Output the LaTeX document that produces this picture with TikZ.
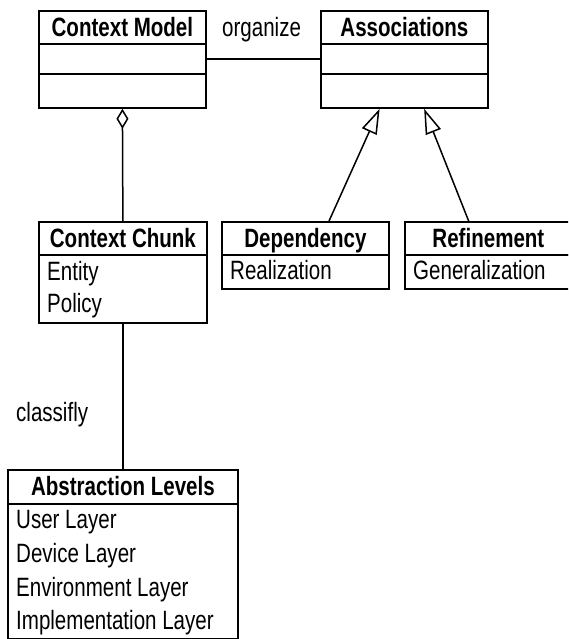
\documentclass[tikz,border=0pt]{standalone}
\usepackage{fontspec}
\setmainfont{Liberation Sans}[FakeStretch=0.775]
\usetikzlibrary{arrows.meta,calc}
\begin{document}
\begin{tikzpicture}[x=1pt,y=-1pt,
  frame/.style={draw, line width=1.8pt, inner sep=0pt, anchor=north west},
  title/.style={frame, font=\fontsize{26.5}{30}\selectfont\bfseries,
    text height=18pt, text depth=0pt, minimum height=33pt},
  slot/.style={frame},
  entry/.style={anchor=base west, inner sep=0pt, font=\fontsize{26.5}{30}\selectfont},
  link/.style={line width=1.5pt},
  hollowdiamond/.style={{Diamond[open,length=20pt,width=12pt]}-},
  hollowtri/.style={-{Triangle[open,length=25pt,width=16pt]}},
]
\path[use as bounding box, clip] (0,0) rectangle (568,639);

% Context Model
\node[title, minimum width=167pt] (cm) at (38,10) {Context Model};
\node[slot, minimum width=167pt, minimum height=30pt] (cm1) at (38,43) {};
\node[slot, minimum width=167pt, minimum height=34pt] (cm2) at (38,73) {};

% Associations
\node[title, minimum width=167pt] (as) at (320,10) {Associations};
\node[slot, minimum width=167pt, minimum height=30pt] (as1) at (320,43) {};
\node[slot, minimum width=167pt, minimum height=34pt] (as2) at (320,73) {};

% Context Chunk
\node[title, minimum width=168pt] (cc) at (38,221) {Context Chunk};
\node[slot, minimum width=168pt, minimum height=68pt] (cc2) at (38,254) {};
\node[entry] (entity) at (47,280) {Entity};
\node[entry] (policy) at (47,312) {Policy};

% Dependency
\node[title, minimum width=167pt] (dep) at (221,221) {Dependency};
\node[slot, minimum width=167pt, minimum height=34pt] (dep2) at (221,254) {};
\node[entry] (real) at (230,279) {Realization};

% Refinement
\node[title, minimum width=167pt] (ref) at (404,221) {Refinement};
\node[slot, minimum width=167pt, minimum height=34pt] (ref2) at (404,254) {};
\node[entry] (gen) at (413,279) {Generalization};

% Abstraction Levels
\node[title, minimum width=230pt, minimum height=34pt] (al) at (7,469) {Abstraction Levels};
\node[slot, minimum width=230pt, minimum height=135pt] (al2) at (7,503) {};
\node[entry] (user) at (16,528) {User Layer};
\node[entry] (device) at (16,562) {Device Layer};
\node[entry] (env) at (16,596) {Environment Layer};
\node[entry] (impl) at (16,629) {Implementation Layer};

% connectors
\draw[link] (cm1.east) -- (as1.west);
\node[entry] (organize) at (222,37) {organize};

\draw[link, hollowdiamond] (cm2.south) -- (cc.north);

\draw[link] (cc2.south) -- (al.north);
\node[entry] (classify) at (16,421) {classifly};

\coordinate (depTop) at ($(dep.north west)!0.64!(dep.north east)$);
\coordinate (asLeft) at ($(as2.south west)!0.353!(as2.south east)$);
\draw[link, hollowtri] (depTop) -- (asLeft);

\coordinate (refTop) at ($(ref.north west)!0.383!(ref.north east)$);
\coordinate (asRight) at ($(as2.south west)!0.617!(as2.south east)$);
\draw[link, hollowtri] (refTop) -- (asRight);
\end{tikzpicture}
\end{document}
